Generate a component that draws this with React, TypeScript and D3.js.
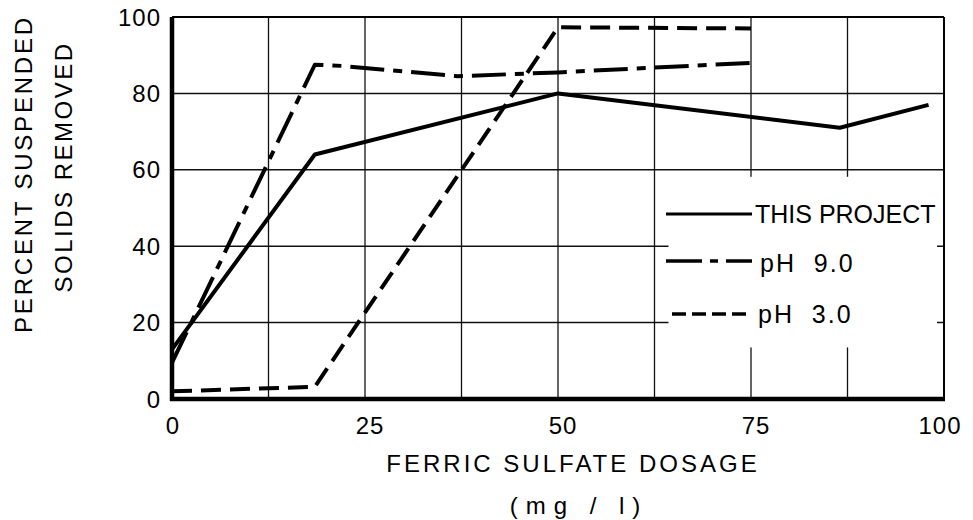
import React, { useRef, useEffect } from "react";
import * as d3 from "d3";

// ferric sulfate dosage (mg/l) vs percent suspended solids removed
const projectDose = [0, 18.5, 50, 86.5, 98];
const projectRemoval = [13, 64, 80, 71, 77];

const ph9Dose = [0, 18.5, 22, 37, 50, 75];
const ph9Removal = [9.5, 87.5, 87.2, 84.5, 85.5, 88];

const ph3Dose = [0, 18.5, 50, 75];
const ph3Removal = [2, 3.2, 97.3, 97];

const xTicks = [0, 25, 50, 75, 100];
const xTickLabels = ["0", "25", "50", "75", "100"];
const yTicks = [0, 20, 40, 60, 80, 100];
const xGridStep = 12.5;

const legendLabels = ["THIS PROJECT", "pH  9.0", "pH  3.0"];
const dashes = [null, "34 9 9 9", "20 9"];

const FONT = "'Liberation Sans', Arial, sans-serif";

const App = () => {
    const svgRef = useRef<SVGSVGElement | null>(null);

    useEffect(() => {
        document.body.style.margin = "0";
        const width = 973;
        const height = 520;
        const x = d3.scaleLinear().domain([0, 100]).range([172, 944]);
        const y = d3.scaleLinear().domain([0, 100]).range([399, 17]);

        const svg = d3.select(svgRef.current);
        svg.selectAll("*").remove();
        svg.attr("width", width).attr("height", height);

        svg.append("rect").attr("width", width).attr("height", height).attr("fill", "#fff");

        // grid
        const xGrid = d3.range(xGridStep, 100, xGridStep);
        svg.append("g")
            .selectAll("line")
            .data(xGrid)
            .enter()
            .append("line")
            .attr("x1", (d) => x(d))
            .attr("x2", (d) => x(d))
            .attr("y1", y(100))
            .attr("y2", y(0))
            .attr("stroke", "#111")
            .attr("stroke-width", 1.3);
        svg.append("g")
            .selectAll("line")
            .data(yTicks.slice(1, -1))
            .enter()
            .append("line")
            .attr("x1", x(0))
            .attr("x2", x(100))
            .attr("y1", (d) => y(d))
            .attr("y2", (d) => y(d))
            .attr("stroke", "#111")
            .attr("stroke-width", 1.5);

        // legend box blanks the grid behind it
        const lx0 = x(62.5) + 14;
        const lx1 = x(100) - 7;
        svg.append("rect")
            .attr("x", lx0)
            .attr("y", y(60) + 7)
            .attr("width", lx1 - lx0)
            .attr("height", y(13.5) - y(60) - 7)
            .attr("fill", "#fff");

        const series = [
            { xs: projectDose, ys: projectRemoval },
            { xs: ph9Dose, ys: ph9Removal },
            { xs: ph3Dose, ys: ph3Removal },
        ];
        const line = d3
            .line<[number, number]>()
            .x((d) => x(d[0]))
            .y((d) => y(d[1]));

        series.forEach((s, i) => {
            const pts = s.xs.map((v, j) => [v, s.ys[j]] as [number, number]);
            const p = svg.append("path")
                .attr("d", line(pts))
                .attr("fill", "none")
                .attr("stroke", "#000")
                .attr("stroke-width", 4)
                .attr("stroke-linejoin", "round");
            if (dashes[i]) p.attr("stroke-dasharray", dashes[i]);
        });

        // legend
        const legendY = [214, 261, 314];
        const legendBaseline = [223, 272, 323];
        const legendTextX = [755, 760, 758];
        legendLabels.forEach((lab, i) => {
            const l = svg.append("line")
                .attr("x1", i === 2 ? 672 : 666)
                .attr("x2", i === 2 ? 748 : 752)
                .attr("y1", legendY[i])
                .attr("y2", legendY[i])
                .attr("stroke", "#000")
                .attr("stroke-width", i === 0 ? 3 : 3.5);
            if (i === 1) l.attr("stroke-dasharray", "36 8 8 8");
            if (i === 2) l.attr("stroke-dasharray", "14 6");
            svg.append("text")
                .attr("x", legendTextX[i])
                .attr("y", legendBaseline[i])
                .attr("font-family", FONT)
                .attr("font-size", 25)
                .attr("letter-spacing", i === 0 ? 0 : 2)
                .attr("fill", "#000")
                .style("white-space", "pre")
                .text(lab);
        });

        // frame: heavy left and bottom axes
        svg.append("line")
            .attr("x1", x(0)).attr("x2", x(100))
            .attr("y1", y(100)).attr("y2", y(100))
            .attr("stroke", "#000").attr("stroke-width", 2);
        svg.append("line")
            .attr("x1", x(100)).attr("x2", x(100))
            .attr("y1", y(100)).attr("y2", y(0))
            .attr("stroke", "#000").attr("stroke-width", 2);
        svg.append("line")
            .attr("x1", x(0)).attr("x2", x(0))
            .attr("y1", y(100)).attr("y2", y(0) + 2)
            .attr("stroke", "#000").attr("stroke-width", 4.5);
        svg.append("line")
            .attr("x1", x(0) - 2).attr("x2", x(100) + 1)
            .attr("y1", y(0)).attr("y2", y(0))
            .attr("stroke", "#000").attr("stroke-width", 4.5);

        // tick labels
        svg.append("g")
            .selectAll("text")
            .data(yTicks)
            .enter()
            .append("text")
            .attr("x", 161)
            .attr("y", (d) => y(d))
            .attr("dy", "0.36em")
            .attr("text-anchor", "end")
            .attr("font-family", FONT)
            .attr("font-size", 24)
            .attr("letter-spacing", 1)
            .text((d) => String(d));
        svg.append("g")
            .selectAll("text")
            .data(xTicks)
            .enter()
            .append("text")
            .attr("x", (d) => x(d) + (d === 0 ? 1 : d === 100 ? -4 : 5))
            .attr("y", 434)
            .attr("text-anchor", "middle")
            .attr("font-family", FONT)
            .attr("font-size", 24)
            .attr("letter-spacing", 1)
            .text((d, i) => xTickLabels[i]);

        // axis titles
        svg.append("text")
            .attr("x", 573)
            .attr("y", 472)
            .attr("text-anchor", "middle")
            .attr("font-family", FONT)
            .attr("font-size", 24)
            .attr("letter-spacing", 3)
            .text("FERRIC SULFATE DOSAGE");
        svg.append("text")
            .attr("x", 579)
            .attr("y", 514)
            .attr("text-anchor", "middle")
            .attr("font-family", FONT)
            .attr("font-size", 24)
            .attr("letter-spacing", 8)
            .text("(mg / l)");
        svg.append("text")
            .attr("transform", "translate(32,174) rotate(-90)")
            .attr("text-anchor", "middle")
            .attr("font-family", FONT)
            .attr("font-size", 24)
            .attr("letter-spacing", 2.8)
            .text("PERCENT SUSPENDED");
        svg.append("text")
            .attr("transform", "translate(72,167) rotate(-90)")
            .attr("text-anchor", "middle")
            .attr("font-family", FONT)
            .attr("font-size", 24)
            .attr("letter-spacing", 2.5)
            .text("SOLIDS REMOVED");
    }, []);

    return <svg ref={svgRef} style={{ display: "block" }}></svg>;
};

export default App;
